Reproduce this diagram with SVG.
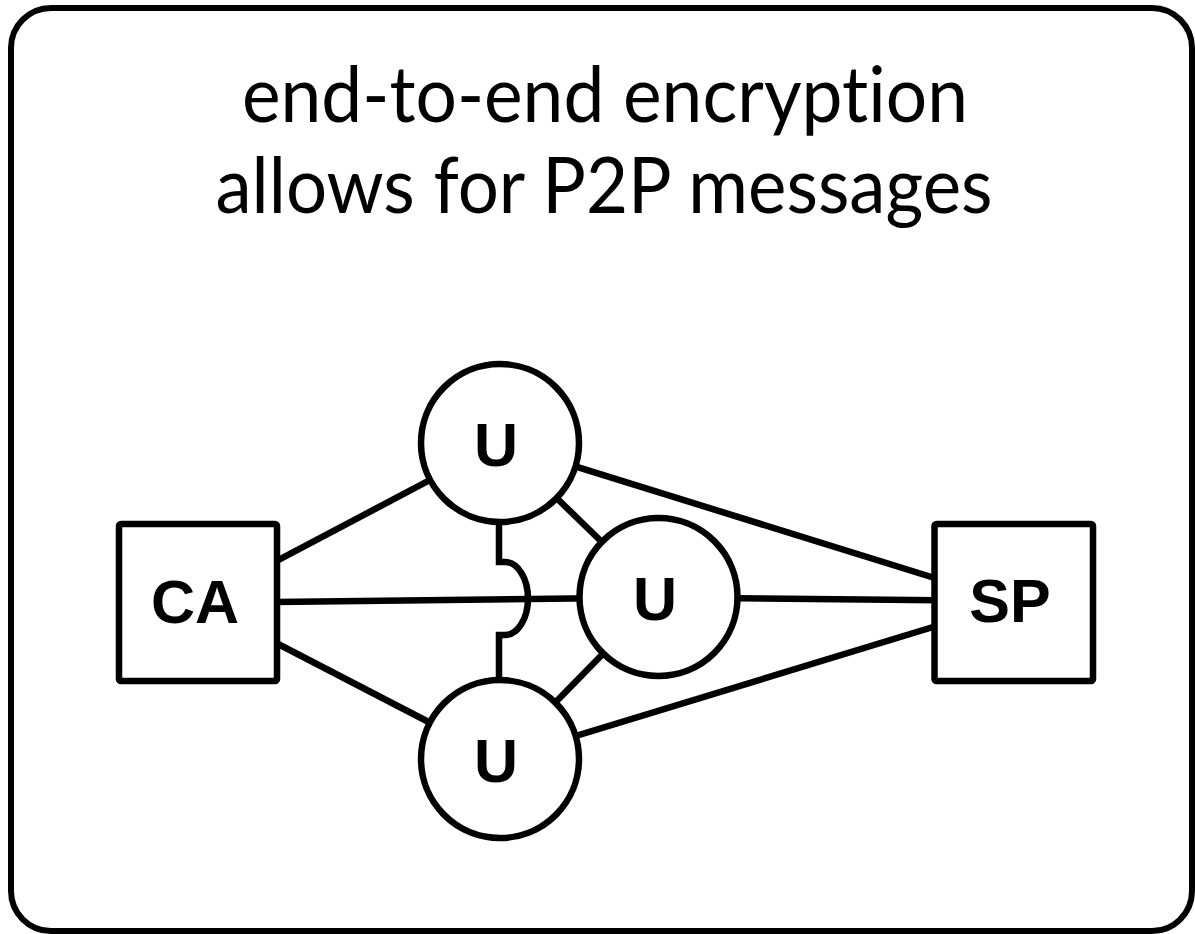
<svg xmlns="http://www.w3.org/2000/svg" width="1195" height="934" viewBox="0 0 1195 934">
<style>
.frame{fill:#fff;stroke:#000;stroke-width:6}
.node{fill:#fff;stroke:#000;stroke-width:6.5}
.edge{fill:none;stroke:#000;stroke-width:6.5}
.title{font-family:Lato,"Open Sans",sans-serif;font-size:77px;fill:#000;text-anchor:middle;font-variant-ligatures:none;font-feature-settings:"liga" 0}
.lbl{font-family:"Liberation Sans",Arial,sans-serif;font-weight:bold;font-size:61px;fill:#000;text-anchor:middle}
</style>
<rect class="frame" x="11" y="8" width="1181" height="923" rx="40" ry="40"/>
<g id="title">
<text class="title" x="605" y="122" textLength="726" lengthAdjust="spacingAndGlyphs">end-to-end encryption</text>
<text class="title" x="604" y="213" textLength="777" lengthAdjust="spacingAndGlyphs">allows for P2P messages</text>
</g>
<g id="connectors">
<line class="edge" x1="198" y1="602.5" x2="500" y2="443"/>
<line class="edge" x1="198" y1="602.5" x2="500" y2="759"/>
<line class="edge" x1="198" y1="603" x2="658.5" y2="597.5"/>
<line class="edge" x1="500" y1="443" x2="1013.5" y2="602.5"/>
<line class="edge" x1="500" y1="759" x2="1013.5" y2="602.5"/>
<line class="edge" x1="658.5" y1="597.5" x2="1013.5" y2="601"/>
<line class="edge" x1="500" y1="443" x2="658.5" y2="597"/>
<line class="edge" x1="500" y1="759" x2="658.5" y2="597"/>
<path class="edge" d="M499 521 V562 H505 A 23 36.5 0 0 1 505 635 H499 V680"/>
</g>
<g id="node-ca">
<rect class="node" x="119" y="524" width="158" height="157" rx="2"/>
<text class="lbl" x="195" y="623">CA</text>
</g>
<g id="node-sp">
<rect class="node" x="934.5" y="524" width="158.5" height="157" rx="2"/>
<text class="lbl" x="1010" y="622">SP</text>
</g>
<g id="node-u-top">
<circle class="node" cx="500" cy="443" r="79"/>
<text class="lbl" x="496" y="466">U</text>
</g>
<g id="node-u-mid">
<circle class="node" cx="658.5" cy="597" r="79"/>
<text class="lbl" x="655" y="620">U</text>
</g>
<g id="node-u-bot">
<circle class="node" cx="500" cy="759" r="79"/>
<text class="lbl" x="496" y="782">U</text>
</g>
</svg>
